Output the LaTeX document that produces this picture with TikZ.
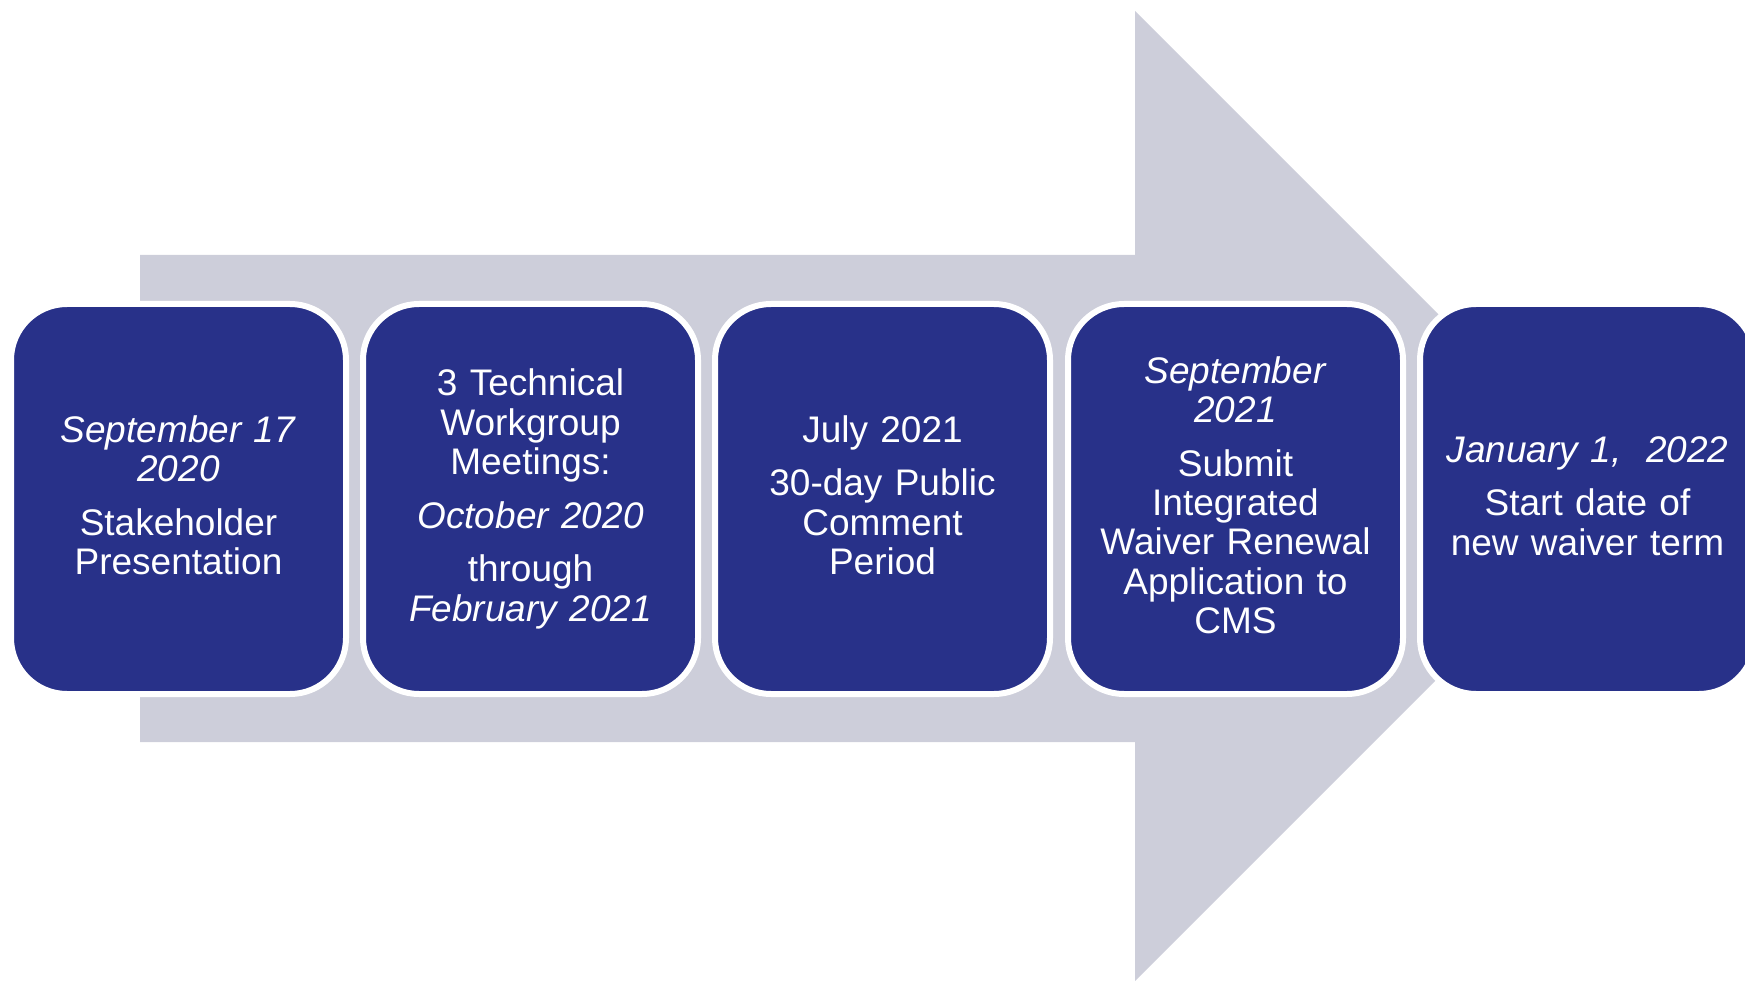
\documentclass[tikz,border=0pt]{standalone}
\usepackage{fontspec}
\setmainfont{Liberation Sans}
\definecolor{boxblue}{RGB}{40,49,137}
\definecolor{arrowgray}{RGB}{205,206,218}
\newcommand\topstrut{\rule{0pt}{30pt}}
\newcommand\lowstrut{\rule[-11pt]{0pt}{11pt}}
\begin{document}
\begin{tikzpicture}[x=1pt,y=-1pt,
  stage/.style={fill=boxblue, draw=white, line width=6pt, rounded corners=56pt,
    minimum width=335pt, minimum height=390pt, text=white, align=center,
    inner sep=0pt, text width=320pt, font=\fontsize{37}{39.5}\selectfont}]
\useasboundingbox (0,0) rectangle (1745,981);
\clip (0,0) rectangle (1745,981);
\fill[arrowgray] (140,255) -- (1135,255) -- (1135,11) -- (1620,496) -- (1135,981) -- (1135,742) -- (140,742) -- cycle;
\node[stage] (b1) at (178.5,499) {\topstrut\textit{September 17}\\ \textit{2020}\\[14pt] Stakeholder\\ Presentation\lowstrut};
\node[stage] (b2) at (530.5,499) {\topstrut 3 Technical\\ Workgroup\\ Meetings:\\[14pt] \textit{October 2020}\\[14pt] through\\ \textit{February 2021}\lowstrut};
\node[stage] (b3) at (882.5,499) {\topstrut July 2021\\[14pt] 30-day Public\\ Comment\\ Period\lowstrut};
\node[stage] (b4) at (1235.5,499) {\topstrut\textit{September}\\ \textit{2021}\\[14pt] Submit\\ Integrated\\ Waiver Renewal\\ Application to\\ CMS\lowstrut};
\node[stage] (b5) at (1587.5,499) {\topstrut\textit{January 1,\ \ 2022}\\[14pt] Start date of\\ new waiver term\lowstrut};
\end{tikzpicture}
\end{document}
